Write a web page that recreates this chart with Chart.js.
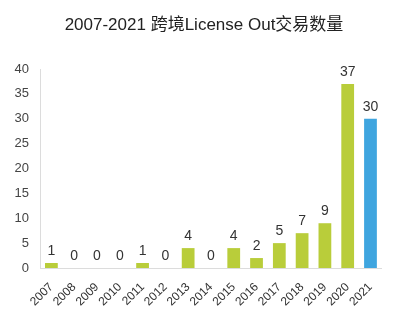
<!DOCTYPE html>
<html>
<head>
<meta charset="utf-8">
<script src="https://cdn.jsdelivr.net/npm/chart.js@4"></script>
<style>
  html, body { margin: 0; padding: 0; background: #fff; }
  #wrap { width: 393px; height: 325px; position: relative; }
</style>
</head>
<body>
<div id="wrap"><canvas id="dealsChart"></canvas></div>
<script>
// dados do gráfico
const years = ['2007', '2008', '2009', '2010', '2011', '2012', '2013', '2014',
    '2015', '2016', '2017', '2018', '2019', '2020', '2021'];
const deals = [1, 0, 0, 0, 1, 0, 4, 0, 4, 2, 5, 7, 9, 37, 30];
const yTicks = [0, 5, 10, 15, 20, 25, 30, 35, 40];
const titleText = '2007-2021 跨境License Out交易数量';

const FONT = '"Liberation Sans", "Noto Sans CJK SC", Arial, sans-serif';
const green = '#B9CD3A';
const blue = '#3FA5DF';

// rótulos com os valores acima das barras
const valueLabels = {
    id: 'valueLabels',
    afterDatasetsDraw(chart) {
        const ctx = chart.ctx;
        const meta = chart.getDatasetMeta(0);
        ctx.save();
        ctx.font = '14px ' + FONT;
        ctx.fillStyle = '#333';
        ctx.textAlign = 'center';
        ctx.textBaseline = 'bottom';
        meta.data.forEach(function(bar, i) {
            ctx.fillText(String(deals[i]), bar.x, bar.y - 5);
        });
        ctx.restore();
    }
};

// título desenhado à mão para controlar a posição
const topTitle = {
    id: 'topTitle',
    afterDraw(chart) {
        const ctx = chart.ctx;
        ctx.save();
        ctx.font = '17px ' + FONT;
        ctx.fillStyle = '#222';
        ctx.textAlign = 'center';
        ctx.textBaseline = 'middle';
        ctx.fillText(titleText, 204, 25);
        ctx.restore();
    }
};

new Chart(document.getElementById('dealsChart'), {
    type: 'bar',
    data: {
        labels: years,
        datasets: [{
            data: deals,
            backgroundColor: years.map(function(y) { return y === '2021' ? blue : green; }),
            borderWidth: 0,
            categoryPercentage: 0.8,
            barPercentage: 0.7
        }]
    },
    options: {
        responsive: true,
        maintainAspectRatio: false,
        animation: false,
        layout: { padding: { top: 69, right: 10, left: 0, bottom: 0 } },
        plugins: {
            legend: { display: false },
            title: { display: false },
            tooltip: { enabled: false }
        },
        scales: {
            x: {
                grid: { display: false, drawTicks: false },
                border: { color: '#dcdcdc', width: 1 },
                ticks: {
                    autoSkip: false,
                    minRotation: 45,
                    maxRotation: 45,
                    padding: 12,
                    color: '#333',
                    font: { family: FONT, size: 12 }
                },
                afterFit: function(scale) { scale.height = 57; }
            },
            y: {
                min: 0,
                max: 40,
                grid: { display: false, drawTicks: false },
                border: { color: '#dcdcdc', width: 1 },
                afterBuildTicks: function(scale) {
                    scale.ticks = yTicks.map(function(v) { return { value: v }; });
                },
                ticks: {
                    padding: 11,
                    color: '#444',
                    font: { family: FONT, size: 13 }
                },
                afterFit: function(scale) { scale.width = 40; }
            }
        }
    },
    plugins: [valueLabels, topTitle]
});
</script>
</body>
</html>
